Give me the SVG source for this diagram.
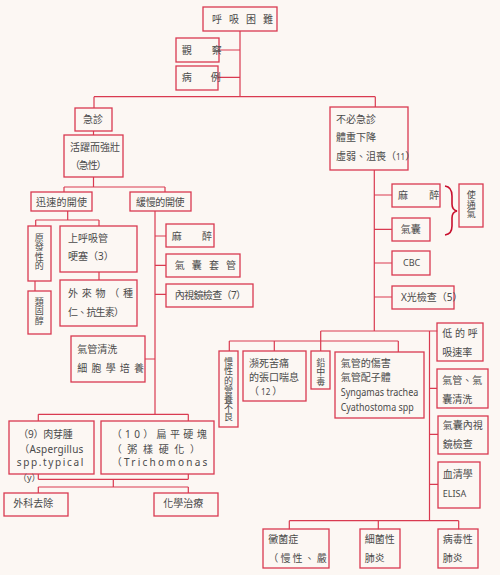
<svg xmlns="http://www.w3.org/2000/svg" width="500" height="575" viewBox="0 0 500 575">
<style>
.b{fill:none;stroke:#D93A50;stroke-width:1.3}
.c{fill:none;stroke:#D93A50;stroke-width:1.2}
text{font-family:"Noto Sans","Noto Sans CJK TC",sans-serif;font-size:10px;fill:#4a4a4a}
.v{writing-mode:vertical-rl;text-orientation:upright;font-size:9px;letter-spacing:0.2px}
</style>
<rect x="0" y="0" width="500" height="575" fill="#FCF7F3"/>
<g id="connectors">
<path class="c" d="M240 31V96.7M240 50H219M240 77.3H218M94 96.7H375.3M94 96.7V108M375.3 96.7V107"/>
<path class="c" d="M93.5 131V135M93.5 177V187M64 187H165M64 187V192M165 187V192"/>
<path class="c" d="M67.7 211V220M35.7 220H99M35.7 220V226M99 220V226M35 281V291M99 272V280"/>
<path class="c" d="M155 211V414.3M155 236H166M155 265.3H166M155 294.3H166M145 359H155"/>
<path class="c" d="M38.3 414.3H188.3M38.3 414.3V421M188.3 414.3V421"/>
<path class="c" d="M38.3 474V479.3M188.3 474V479.3M38.3 479.3H188.3M113.3 479.3V487M38.3 487H188.3M38.3 487V493M188.3 487V493"/>
<path class="c" d="M374.3 170V331M374.3 195H392M374.3 229.3H392M374.3 263H392M374.3 297H392"/>
<path class="c" d="M320.7 331H437.3M320.7 331V351M229.3 341H398.3M229.3 341V351M274.3 341V351M398.3 341V352"/>
<path class="c" d="M429.5 331V520.7M429.5 388.3H437M429.5 434.3H438M429.5 484.3H438M289.3 520.7H458.7M289.3 520.7V529.3M378.3 520.7V529.3M458.7 520.7V529.3"/>
<path d="M445 186Q452 187 452 196V204Q452 210 457 211Q452 212 452 218V226Q452 234 445 235" fill="none" stroke="#C8102E" stroke-width="1.6"/>
</g>
<g id="n1"><rect class="b" x="203" y="7" width="74" height="24"/><text x="212" y="22.5" textLength="61" lengthAdjust="spacing">呼吸困難</text></g>
<g id="n2"><rect class="b" x="176" y="38" width="43" height="24"/><text x="181.7" y="53.5" textLength="40" lengthAdjust="spacing">觀察</text></g>
<g id="n3"><rect class="b" x="176" y="66" width="42" height="24"/><text x="181.7" y="81" textLength="39" lengthAdjust="spacing">病例</text></g>
<g id="n4"><rect class="b" x="75" y="108" width="37" height="23"/><text x="83" y="123">急診</text></g>
<g id="n5"><rect class="b" x="64" y="135" width="59" height="42"/><text x="70" y="151">活躍而強壯</text><text x="70" y="169" textLength="36.5" lengthAdjust="spacing">（急性）</text></g>
<g id="n6"><rect class="b" x="31" y="192" width="61" height="19"/><text x="36" y="205.5" textLength="51" lengthAdjust="spacing">迅速的開使</text></g>
<g id="n7"><rect class="b" x="130" y="192" width="61" height="19"/><text x="136" y="205.5" textLength="48.5" lengthAdjust="spacing">緩慢的開使</text></g>
<g id="n8"><rect class="b" x="28" y="226" width="23" height="55"/><text class="v" x="39.3" y="233.2">原發性的</text></g>
<g id="n9"><rect class="b" x="28" y="291" width="23" height="43"/><text class="v" x="39.3" y="297.2">類固醇</text></g>
<g id="n10"><rect class="b" x="60" y="226" width="77" height="46"/><text x="68" y="242">上呼吸管</text><text x="68" y="259.5">哽塞（3）</text></g>
<g id="n11"><rect class="b" x="60" y="280" width="77" height="46"/><text x="68" y="297" textLength="65" lengthAdjust="spacing">外來物（種</text><text x="68" y="316" textLength="56" lengthAdjust="spacing">仁、抗生素）</text></g>
<g id="n12"><rect class="b" x="166" y="224" width="48" height="23"/><text x="171.7" y="239.5" textLength="40.3" lengthAdjust="spacing">麻醉</text></g>
<g id="n13"><rect class="b" x="166" y="254" width="74" height="23"/><text x="174.7" y="268.8" textLength="61.3" lengthAdjust="spacing">氣囊套管</text></g>
<g id="n14"><rect class="b" x="166" y="284" width="87" height="23"/><text x="174.7" y="298.5" textLength="71.3" lengthAdjust="spacing">內視鏡檢查（7）</text></g>
<g id="n15"><rect class="b" x="71" y="336" width="74" height="46"/><text x="77.3" y="352.8">氣管清洗</text><text x="77.3" y="372.2" textLength="66.7" lengthAdjust="spacing">細胞學培養</text></g>
<g id="n16"><rect class="b" x="9" y="421" width="85" height="53"/><text x="18.3" y="437.5" textLength="54.4" lengthAdjust="spacing">（9）肉芽腫</text><text x="19.3" y="452.8" textLength="64" lengthAdjust="spacing">（Aspergillus</text><text x="16.7" y="466.2" textLength="66.6" lengthAdjust="spacing">spp.typical</text><text x="18" y="481.2" style="font-size:9px">（y）</text></g>
<g id="n17"><rect class="b" x="101" y="421" width="113" height="53"/><text x="111.7" y="437.5" textLength="95" lengthAdjust="spacing">（10）扁平硬塊</text><text x="111.7" y="452.8" textLength="88.3" lengthAdjust="spacing">（粥樣硬化）</text><text x="111.7" y="466.2" textLength="95.6" lengthAdjust="spacing">（Trichomonas</text></g>
<g id="n18"><rect class="b" x="4" y="493" width="64" height="23"/><text x="13.3" y="507">外科去除</text></g>
<g id="n19"><rect class="b" x="154" y="493" width="64" height="23"/><text x="163.3" y="507">化學治療</text></g>
<g id="n20"><rect class="b" x="330" y="107" width="78" height="63"/><text x="336" y="122.5">不必急診</text><text x="336" y="141.2">體重下降</text><text x="336" y="160.2">虛弱、沮喪（<tspan font-size="8">11</tspan>）</text></g>
<g id="n21"><rect class="b" x="392" y="184" width="48" height="23"/><text x="398" y="198.5" textLength="41.3" lengthAdjust="spacing">麻醉</text></g>
<g id="n22"><rect class="b" x="392" y="218" width="38" height="23"/><text x="400.7" y="232.8">氣囊</text></g>
<g id="n23"><rect class="b" x="392" y="251" width="38" height="24"/><text x="403" y="266.3" style="font-size:9px">CBC</text></g>
<g id="n24"><rect class="b" x="392" y="286" width="62" height="23"/><text x="401" y="300.5">X光檢查（5）</text></g>
<g id="n25"><rect class="b" x="459" y="184" width="24" height="43"/><text class="v" x="471.3" y="190.5">使通氣</text></g>
<g id="n26"><rect class="b" x="219" y="351" width="19" height="76"/><text class="v" x="228.5" y="357.2">慢性的營養不良</text></g>
<g id="n27"><rect class="b" x="243" y="351" width="63" height="50"/><text x="249" y="366.8">瀕死苦痛</text><text x="249" y="380.8">的張口喘息</text><text x="249" y="395.2">（<tspan font-size="8"> 12 </tspan>）</text></g>
<g id="n28"><rect class="b" x="311" y="351" width="19" height="38"/><text class="v" x="320.7" y="358.2">鉛中毒</text></g>
<g id="n29"><rect class="b" x="335" y="352" width="89" height="66"/><text x="340.7" y="366.8">氣管的傷害</text><text x="340.7" y="380.8">氣管配子體</text><text x="340.7" y="395.8" textLength="77.6" lengthAdjust="spacingAndGlyphs">Syngamas trachea</text><text x="340.7" y="410.8" textLength="73" lengthAdjust="spacingAndGlyphs">Cyathostoma spp</text></g>
<g id="n30"><rect class="b" x="437" y="323" width="46" height="38"/><text x="442.3" y="336.8" textLength="35.4" lengthAdjust="spacing">低的呼</text><text x="442.3" y="355.8">吸速率</text></g>
<g id="n31"><rect class="b" x="437" y="369" width="51" height="39"/><text x="442.3" y="383.5">氣管、氣</text><text x="442.3" y="402.5">囊清洗</text></g>
<g id="n32"><rect class="b" x="438" y="416" width="50" height="38"/><text x="442.7" y="428.5">氣囊內視</text><text x="442.7" y="447.8">鏡檢查</text></g>
<g id="n33"><rect class="b" x="438" y="462" width="42" height="46"/><text x="442.7" y="477.8">血清學</text><text x="442.7" y="497.3" style="font-size:9px">ELISA</text></g>
<g id="n34"><rect class="b" x="263" y="529" width="66" height="39"/><text x="268.3" y="542.5">黴菌症</text><text x="268.3" y="561.5" textLength="58.4" lengthAdjust="spacing">（慢性、嚴</text></g>
<g id="n35"><rect class="b" x="360" y="529" width="40" height="39"/><text x="364.7" y="542.5">細菌性</text><text x="364.7" y="561.5">肺炎</text></g>
<g id="n36"><rect class="b" x="438" y="529" width="40" height="39"/><text x="442.7" y="542.5">病毒性</text><text x="442.7" y="561.5">肺炎</text></g>
</svg>
